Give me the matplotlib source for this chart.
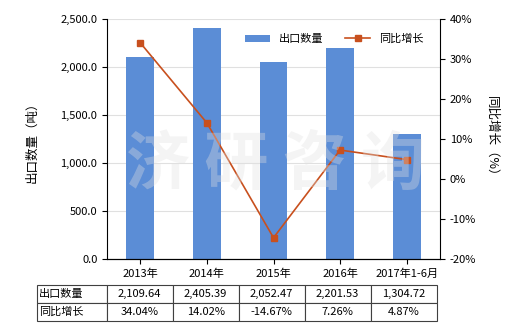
import matplotlib
matplotlib.use('Agg')
import matplotlib.pyplot as plt
import numpy as np

plt.rcParams['font.family'] = ['Noto Sans CJK SC', 'DejaVu Sans']

# chart data
categories = ['2013年', '2014年', '2015年', '2016年', '2017年1-6月']
export_qty = [2109.64, 2405.39, 2052.47, 2201.53, 1304.72]
yoy_growth = [34.04, 14.02, -14.67, 7.26, 4.87]
qty_labels = ['2,109.64', '2,405.39', '2,052.47', '2,201.53', '1,304.72']
growth_labels = ['34.04%', '14.02%', '-14.67%', '7.26%', '4.87%']

bar_color = '#5B8DD6'
line_color = '#C8501E'

fig = plt.figure(figsize=(5.2, 3.3), dpi=100)
ax = fig.add_axes([0.206, 0.215, 0.640, 0.727])
x = np.arange(len(categories))

ax.bar(x, export_qty, width=0.42, color=bar_color, label='出口数量', zorder=2)
ax.set_xlim(-0.5, len(categories) - 0.5)
ax.set_ylim(0, 2500)
ax.set_yticks(np.arange(0, 2501, 500))
ax.set_yticklabels(['{:,.1f}'.format(v) for v in np.arange(0, 2501, 500)], fontsize=8)
ax.set_xticks(x)
ax.set_xticklabels(categories, fontsize=8)
ax.grid(axis='y', color='#E0E0E0', linewidth=0.8, zorder=0)
ax.set_ylabel('出口数量（吨）', fontsize=9, labelpad=16)
for s in ['top', 'right']:
    ax.spines[s].set_visible(False)

ax2 = ax.twinx()
ax2.plot(x, yoy_growth, color=line_color, marker='s', markersize=4,
         linewidth=1.2, label='同比增长', zorder=3)
ax2.set_ylim(-20, 40)
ax2.set_yticks(np.arange(-20, 41, 10))
ax2.set_yticklabels(['{}%'.format(v) for v in np.arange(-20, 41, 10)], fontsize=8)
ax2.set_ylabel('同比增长（%）', fontsize=9, rotation=270, labelpad=16)
for s in ['top', 'left']:
    ax2.spines[s].set_visible(False)

# watermark
fig.text(0.53, 0.5, '济 研 咨 询', fontsize=46, color='#E0E0E0', alpha=0.35,
         ha='center', va='center', fontweight='bold', zorder=10)

h1, l1 = ax.get_legend_handles_labels()
h2, l2 = ax2.get_legend_handles_labels()
ax2.legend(h1 + h2, l1 + l2, loc='upper right', bbox_to_anchor=(0.98, 0.98),
           ncol=2, frameon=False, fontsize=8, handlelength=2.2, columnspacing=2)

# data table below the axes
cells = [['出口数量'] + qty_labels, ['同比增长'] + growth_labels]
col_w = [70] + [66.6] * len(categories)
tbl = ax.table(cellText=cells, colWidths=col_w, bbox=[-0.21, -0.258, 1.2, 0.15],
               cellLoc='center')
tbl.auto_set_font_size(False)
tbl.set_fontsize(8)
for (r, c), cell in tbl.get_celld().items():
    cell.set_edgecolor('#404040')
    cell.set_linewidth(0.8)
    if c == 0:
        cell.set_text_props(ha='left')
        cell.PAD = 0.02

fig.savefig('out.png', dpi=100)
